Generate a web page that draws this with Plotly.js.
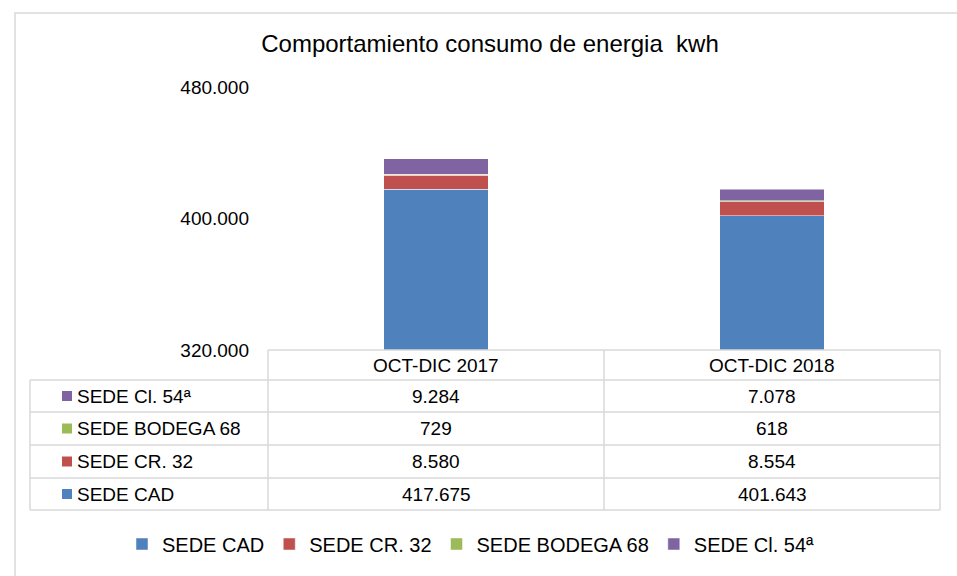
<!DOCTYPE html>
<html><head><meta charset="utf-8">
<script src="https://cdn.plot.ly/plotly-3.0.1.min.js"></script>
<style>html,body{margin:0;padding:0;background:#fff;}#chart{width:957px;height:576px;}</style>
</head><body><div id="chart"></div>
<script>
const categories = ['OCT-DIC 2017', 'OCT-DIC 2018'];
const seriesNames = ['SEDE CAD', 'SEDE CR. 32', 'SEDE BODEGA 68', 'SEDE Cl. 54ª'];
const sedeCAD = [417675, 401643];
const sedeCR32 = [8580, 8554];
const sedeBodega68 = [729, 618];
const sedeCl54 = [9284, 7078];
const colors = ['#4F81BD', '#C0504D', '#9BBB59', '#8064A2'];
const yTicks = [320000, 400000, 480000];

const seriesValues = [sedeCAD, sedeCR32, sedeBodega68, sedeCl54];
const font = 'Liberation Sans, Arial, sans-serif';
const fs = 19;

// pixel layout helpers
const L = 268, R = 940, T = 87, B = 350;
const px = x => (x - L) / (R - L);
const py = y => (B - y) / (B - T);

const traces = seriesValues.map((vals, i) => ({
  type: 'bar', x: categories, y: vals, name: seriesNames[i],
  marker: {color: colors[i], line: {color: 'rgba(255,255,255,0.6)', width: 0.8}},
  width: 0.31, hoverinfo: 'x+y+name'
}));

function fmt(v) { return String(v).replace(/\B(?=(\d{3})+(?!\d))/g, '.'); }

const lineColor = '#d9d9d9';
const shapes = [];
const annotations = [];
function hline(y, x0, x1) { shapes.push({type: 'line', xref: 'paper', yref: 'paper', x0: px(x0), x1: px(x1), y0: py(y), y1: py(y), line: {color: lineColor, width: 1.5}}); }
function vline(x, y0, y1) { shapes.push({type: 'line', xref: 'paper', yref: 'paper', x0: px(x), x1: px(x), y0: py(y0), y1: py(y1), line: {color: lineColor, width: 1.5}}); }

// outer border
shapes.push({type: 'rect', xref: 'paper', yref: 'paper', x0: px(15), x1: px(965), y0: py(13), y1: py(590), line: {color: lineColor, width: 1.5}, fillcolor: 'rgba(0,0,0,0)'});

// data table grid
const rowLines = [350, 380, 412, 445, 478, 510];
hline(350, L, R);
for (let k = 1; k < rowLines.length; k++) hline(rowLines[k], 30, R);
vline(L, 350, 510); vline(604, 350, 510); vline(R, 350, 510); vline(30, 380, 510);

const colCenters = [436, 772];
// header
categories.forEach((c, j) => annotations.push({xref: 'paper', yref: 'paper', x: px(colCenters[j]), y: py(365), text: c, showarrow: false, font: {family: font, size: fs, color: '#000'}, xanchor: 'center', yanchor: 'middle'}));
// rows: reverse order (top is last series)
const order = [3, 2, 1, 0];
order.forEach((si, r) => {
  const yc = (rowLines[r + 1] + rowLines[r + 2]) / 2;
  shapes.push({type: 'rect', xref: 'paper', yref: 'paper', x0: px(62), x1: px(72), y0: py(yc - 5), y1: py(yc + 5), fillcolor: colors[si], line: {width: 0}});
  annotations.push({xref: 'paper', yref: 'paper', x: px(75), y: py(yc), text: seriesNames[si], showarrow: false, font: {family: font, size: fs, color: '#000'}, xanchor: 'left', yanchor: 'middle'});
  seriesValues[si].forEach((v, j) => annotations.push({xref: 'paper', yref: 'paper', x: px(colCenters[j]), y: py(yc), text: fmt(v), showarrow: false, font: {family: font, size: fs, color: '#000'}, xanchor: 'center', yanchor: 'middle'}));
});

const layout = {
  width: 957, height: 576,
  margin: {l: L, r: 957 - R, t: T, b: 576 - B},
  paper_bgcolor: '#fff', plot_bgcolor: '#fff',
  barmode: 'stack', separators: ',.',
  title: {text: 'Comportamiento consumo de energia  kwh', font: {family: font, size: 24, color: '#000'}, x: 490 / 957, xanchor: 'center', y: 1 - 44 / 576, yanchor: 'middle', xref: 'container', yref: 'container'},
  xaxis: {showticklabels: false, showgrid: false, zeroline: false, showline: false, ticks: ''},
  yaxis: {range: [320000, 480000], tickvals: yTicks, ticktext: yTicks.map(fmt), showgrid: false, zeroline: false, showline: false, ticks: '', ticklabelstandoff: 18, tickfont: {family: font, size: fs, color: '#000'}},
  showlegend: true,
  legend: {orientation: 'h', x: px(122), xanchor: 'left', y: py(544), yanchor: 'middle', font: {family: font, size: 20, color: '#000'}, traceorder: 'normal', itemwidth: 30},
  shapes: shapes, annotations: annotations
};

Plotly.newPlot('chart', traces, layout, {displayModeBar: false});
</script></body></html>
